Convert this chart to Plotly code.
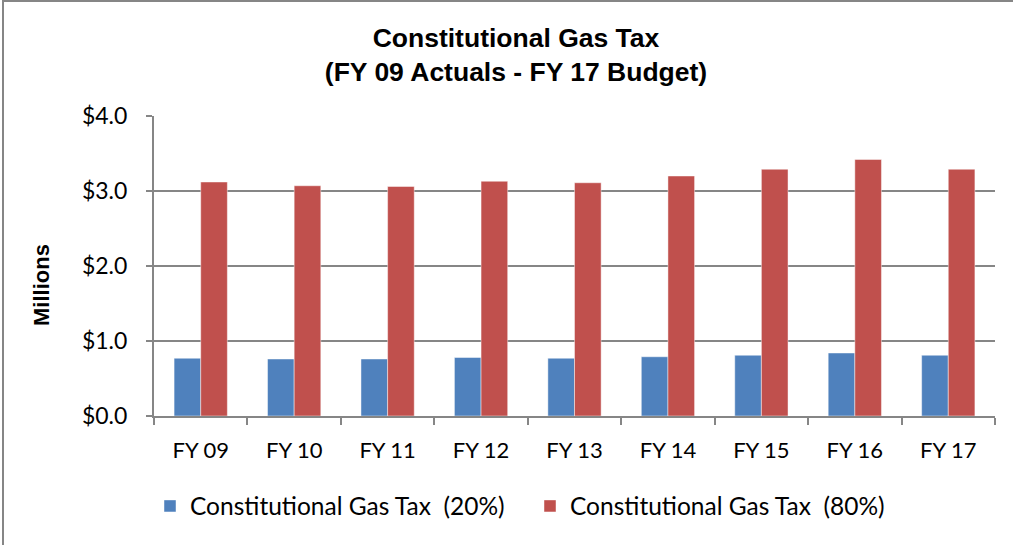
import plotly.graph_objects as go

categories = ["FY 09", "FY 10", "FY 11", "FY 12", "FY 13", "FY 14", "FY 15", "FY 16", "FY 17"]
share_20 = [0.77, 0.76, 0.76, 0.78, 0.77, 0.79, 0.81, 0.84, 0.81]
share_80 = [3.12, 3.07, 3.06, 3.13, 3.11, 3.20, 3.29, 3.42, 3.29]
series_names = ["Constitutional Gas Tax\u00a0\u00a0(20%)", "Constitutional Gas Tax\u00a0\u00a0(80%)"]
y_ticks = [0, 1, 2, 3, 4]
y_tick_labels = ["$0.0", "$1.0", "$2.0", "$3.0", "$4.0"]

W, H = 1013, 545
L, R, T, B = 154, 18, 116, 129
pw, ph = W - L - R, H - T - B

def px_x(x):
    return (x - L) / pw

def px_y(y):
    return (H - B - y) / ph

fig = go.Figure()
fig.add_trace(go.Bar(x=categories, y=share_20, name=series_names[0],
                     marker=dict(color="#4F81BD", line=dict(color="rgba(255,255,255,0.45)", width=1))))
fig.add_trace(go.Bar(x=categories, y=share_80, name=series_names[1],
                     marker=dict(color="#C0504D", line=dict(color="rgba(255,255,255,0.45)", width=1))))

fig.update_layout(
    width=W, height=H,
    margin=dict(l=L, r=R, t=T, b=B, autoexpand=False),
    paper_bgcolor="white", plot_bgcolor="white",
    barmode="group", bargap=0.43, bargroupgap=0,
    title=dict(text="<b>Constitutional Gas Tax<br>(FY 09 Actuals - FY 17 Budget)</b>",
               x=px_x(516), xref="paper", xanchor="center",
               y=1 - 47 / H, yref="container", yanchor="middle",
               font=dict(family="Liberation Sans, Arial", size=26.5, color="black")),
    font=dict(family="Lato", size=22, color="black"),
    legend=dict(orientation="h", x=px_x(150), xanchor="left", y=px_y(506), yanchor="middle",
                font=dict(family="Lato", size=24.5, color="black"), itemwidth=30,
                entrywidth=335, entrywidthmode="pixels",
                bgcolor="rgba(0,0,0,0)"),
    showlegend=True,
)

fig.update_xaxes(
    type="category", showline=True, linecolor="#868686", linewidth=2,
    ticks="outside", tickson="boundaries", ticklen=7, tickcolor="#868686", tickwidth=2,
    showgrid=False, ticklabelstandoff=14,
    tickfont=dict(family="Lato", size=22, color="black"),
)
fig.update_yaxes(
    range=[0, 4], tickvals=y_ticks, ticktext=y_tick_labels,
    showline=True, linecolor="#868686", linewidth=2,
    ticks="outside", ticklen=6, tickcolor="#868686", tickwidth=2,
    showgrid=True, gridcolor="#868686", gridwidth=2, zeroline=False,
    ticklabelstandoff=14,
    tickfont=dict(family="Lato", size=23, color="black"),
)

fig.add_annotation(text="<b>Millions</b>", textangle=-90, xref="paper", yref="paper",
                   x=px_x(41), y=px_y(285), xanchor="center", yanchor="middle", showarrow=False,
                   font=dict(family="Liberation Sans, Arial", size=22, color="black"))

fig.add_shape(type="rect", xref="paper", yref="paper",
              x0=px_x(3), x1=px_x(W + 10), y0=px_y(H + 10), y1=px_y(1),
              line=dict(color="#868686", width=2), fillcolor="rgba(0,0,0,0)", layer="above")

fig.write_html("out.html", config={"displayModeBar": False},
               post_script="document.body.style.margin='0px';document.body.style.overflow='hidden';")
